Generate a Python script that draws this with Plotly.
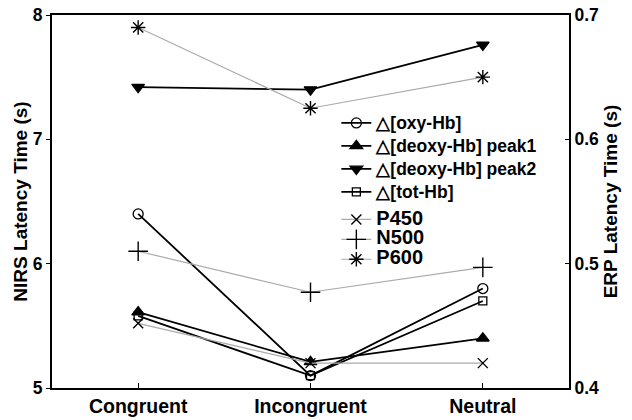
import plotly.graph_objects as go

categories = ["Congruent", "Incongruent", "Neutral"]

# NIRS latency (s), left axis
oxy_hb = [6.40, 5.10, 5.80]
deoxy_peak1 = [5.61, 5.21, 5.40]
deoxy_peak2 = [7.42, 7.40, 7.76]
tot_hb = [5.58, 5.10, 5.70]

# ERP latency (s), right axis
p450 = [0.452, 0.420, 0.420]
n500 = [0.510, 0.477, 0.497]
p600 = [0.690, 0.625, 0.650]

xpos = [1, 2, 3]

FONT = "Liberation Sans, Arial, sans-serif"

fig = go.Figure()

nirs = [
    ("△[oxy-Hb]", oxy_hb, "circle-open", 10),
    ("△[deoxy-Hb] peak1", deoxy_peak1, "triangle-up", 11),
    ("△[deoxy-Hb] peak2", deoxy_peak2, "triangle-down", 11),
    ("△[tot-Hb]", tot_hb, "square-open", 8),
]
for name, vals, sym, sz in nirs:
    fig.add_trace(go.Scatter(
        x=xpos, y=vals, name='<span style="font-size:17.5px">' + name + '</span>',
        mode="lines+markers",
        line=dict(color="black", width=1.8),
        marker=dict(symbol=sym, size=sz, color="black",
                    line=dict(color="black", width=1.3)),
        legend="legend", yaxis="y",
    ))

erp = [
    ("P450", p450, "x-thin-open", 10),
    ("N500", n500, "cross-thin-open", 14),
    ("P600", p600, "asterisk-open", 12),
]
for name, vals, sym, sz in erp:
    fig.add_trace(go.Scatter(
        x=xpos, y=vals, name='<span style="font-size:20px">' + name + '</span>',
        mode="lines+markers",
        line=dict(color="#aaaaaa", width=1.2),
        marker=dict(symbol=sym, size=sz, color="black",
                    line=dict(color="black", width=1.4)),
        legend="legend2", yaxis="y2",
    ))

tick_font = dict(family=FONT, size=17.5, color="black", weight="bold")
title_font = dict(family=FONT, size=19, color="black", weight="bold")

fig.update_layout(
    width=632, height=420,
    margin=dict(l=52, r=63, t=15, b=32),
    plot_bgcolor="white", paper_bgcolor="white",
    font=dict(family=FONT, color="black", size=16, weight="bold"),
    showlegend=True,
    legend=dict(
        x=0.55, y=0.755, xanchor="left", yanchor="top",
        bgcolor="rgba(0,0,0,0)", borderwidth=0,
        font=dict(family=FONT, size=15.4, color="black", weight="bold"),
        itemwidth=30,
    ),
    legend2=dict(
        x=0.55, y=0.492, xanchor="left", yanchor="top",
        bgcolor="rgba(0,0,0,0)", borderwidth=0,
        font=dict(family=FONT, size=13, color="black", weight="bold"),
        itemwidth=30,
    ),
    xaxis=dict(
        range=[0.5, 3.5], tickvals=xpos, ticktext=categories,
        showline=True, linecolor="black", linewidth=2, mirror=True,
        ticks="inside", ticklen=5, tickcolor="black",
        showgrid=False, zeroline=False, automargin=False,
        tickfont=dict(family=FONT, size=19.5, color="black", weight="bold"),
    ),
    yaxis=dict(
        range=[5, 8], tickvals=[5, 6, 7, 8],
        showline=True, linecolor="black", linewidth=2,
        ticks="outside", ticklen=4, tickcolor="black",
        showgrid=False, zeroline=False, automargin=False,
        title=dict(text="NIRS Latency Time (s)", standoff=0, font=title_font),
        tickfont=tick_font,
    ),
    yaxis2=dict(
        range=[0.4, 0.7], tickvals=[0.4, 0.5, 0.6, 0.7], tickformat=".1f",
        overlaying="y", side="right",
        showline=True, linecolor="black", linewidth=2,
        ticks="inside", ticklen=4, tickcolor="black",
        showgrid=False, zeroline=False, automargin=False,
        title=dict(text="ERP Latency Time (s)", standoff=6, font=title_font),
        tickfont=tick_font,
    ),
)

fig.write_html("out.html")
